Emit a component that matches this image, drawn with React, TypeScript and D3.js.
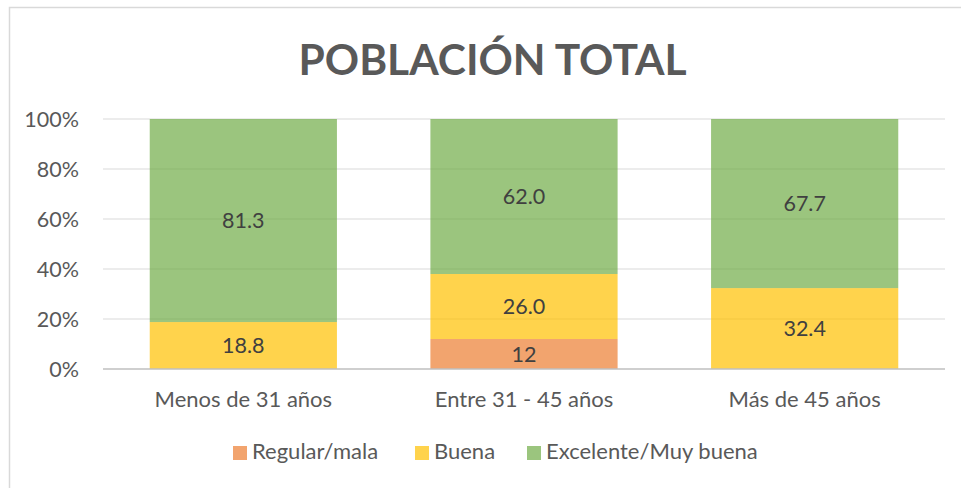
import React from "react";
import * as d3 from "d3";

const categories = ["Menos de 31 años", "Entre 31 - 45 años", "Más de 45 años"];
const seriesNames = ["Regular/mala", "Buena", "Excelente/Muy buena"];
const regularMala = [0, 12, 0];
const buena = [18.8, 26.0, 32.4];
const excelente = [81.3, 62.0, 67.7];
const labelTexts = [
  ["", "12", ""],
  ["18.8", "26.0", "32.4"],
  ["81.3", "62.0", "67.7"],
];
const yTicks = [0, 0.2, 0.4, 0.6, 0.8, 1.0];
const colors = ["#ED7D31", "#FFC000", "#70AD47"];
const title = "POBLACIÓN TOTAL";

const W = 961;
const H = 488;
const plot = { left: 103, right: 945, top: 119, bottom: 369 };
const FONT = "Lato, 'Open Sans', sans-serif";

export default function App() {
  const rows = categories.map((c, i) => ({
    cat: c,
    s0: regularMala[i],
    s1: buena[i],
    s2: excelente[i],
  }));
  const stack = d3
    .stack<any>()
    .keys(["s0", "s1", "s2"])
    .offset(d3.stackOffsetExpand);
  const layers = stack(rows);

  const x = d3
    .scaleBand<string>()
    .domain(categories)
    .range([plot.left, plot.right])
    .paddingInner(0.333)
    .paddingOuter(0.1665);
  const y = d3.scaleLinear().domain([0, 1]).range([plot.bottom, plot.top]);

  const legendX = [233, 415, 527];

  return (
    <svg
      width={W}
      height={H}
      style={{ position: "absolute", left: 0, top: 0, background: "#fff" }}
    >
      <rect x={0} y={0} width={W} height={H} fill="#fff" />
      <rect
        x={9.5}
        y={7.5}
        width={W + 10}
        height={H + 10}
        fill="#fff"
        stroke="#D9D9D9"
        strokeWidth={1.5}
      />
      <text
        x={492.5}
        y={75}
        textAnchor="middle"
        fontFamily={FONT}
        fontWeight={700}
        fontSize={42.5}
        fill="#595959"
      >
        {title}
      </text>
      {yTicks.map((t) =>
        t === 0 ? null : (
          <line
            key={t}
            x1={plot.left}
            x2={plot.right}
            y1={y(t)}
            y2={y(t)}
            stroke="#D9D9D9"
            strokeWidth={1}
          />
        )
      )}
      {yTicks.map((t) => (
        <text
          key={"l" + t}
          x={79}
          y={y(t) + 7.5}
          textAnchor="end"
          fontFamily={FONT}
          fontSize={21.5}
          fill="#595959"
        >
          {d3.format(".0%")(t)}
        </text>
      ))}
      {layers.map((layer, li) =>
        layer.map((d, i) => {
          const h = y(d[0]) - y(d[1]);
          if (h <= 0) return null;
          return (
            <rect
              key={li + "-" + i}
              x={x(categories[i])}
              y={y(d[1])}
              width={x.bandwidth()}
              height={h}
              fill={colors[li]}
              fillOpacity={0.7}
            />
          );
        })
      )}
      {layers.map((layer, li) =>
        layer.map((d, i) => {
          const h = y(d[0]) - y(d[1]);
          if (h <= 0 || !labelTexts[li][i]) return null;
          return (
            <text
              key={"t" + li + "-" + i}
              x={(x(categories[i]) as number) + x.bandwidth() / 2}
              y={(y(d[0]) + y(d[1])) / 2 + 7.5}
              textAnchor="middle"
              fontFamily={FONT}
              fontSize={21.5}
              fill="#404040"
            >
              {labelTexts[li][i]}
            </text>
          );
        })
      )}
      <line
        x1={plot.left}
        x2={plot.right}
        y1={y(0)}
        y2={y(0)}
        stroke="#BFBFBF"
        strokeWidth={1.5}
      />
      {categories.map((c) => (
        <text
          key={"c" + c}
          x={(x(c) as number) + x.bandwidth() / 2}
          y={407}
          textAnchor="middle"
          fontFamily={FONT}
          fontSize={22}
          fill="#595959"
        >
          {c}
        </text>
      ))}
      {seriesNames.map((s, i) => (
        <g key={"lg" + s}>
          <rect
            x={legendX[i]}
            y={446}
            width={14}
            height={14}
            fill={colors[i]}
            fillOpacity={0.7}
          />
          <text
            x={legendX[i] + 19}
            y={459}
            fontFamily={FONT}
            fontSize={22}
            fill="#595959"
          >
            {s}
          </text>
        </g>
      ))}
    </svg>
  );
}
